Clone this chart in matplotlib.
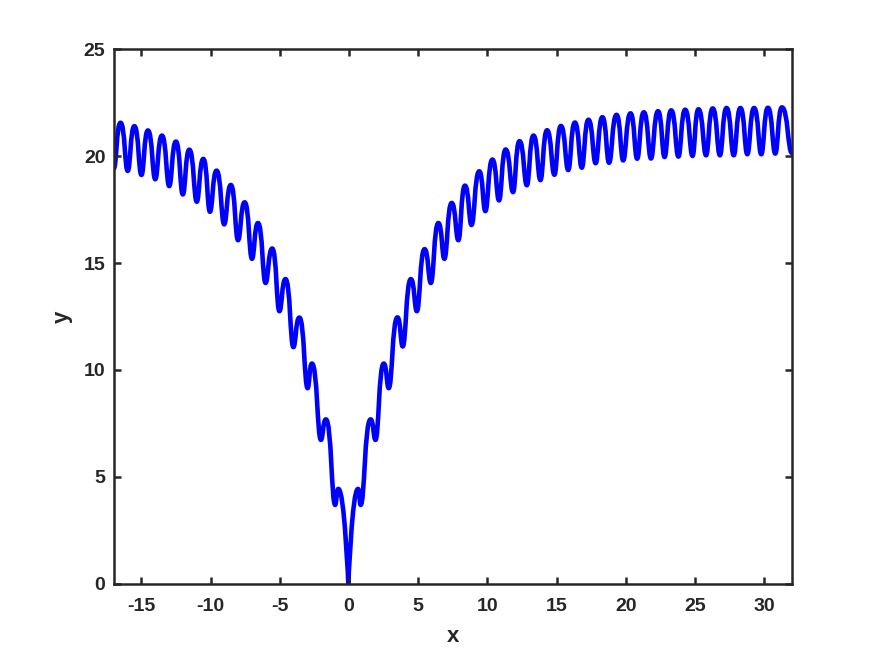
import matplotlib
matplotlib.use("Agg")
import matplotlib.pyplot as plt
from matplotlib.path import Path
from matplotlib.patches import PathPatch

# turning points of the curve (troughs / peaks), left to right
curve_x = [-17.0, -16.51, -15.99, -15.51, -15.0, -14.53, -14.0, -13.52, -12.99, -12.51,
           -12.01, -11.54, -11.0, -10.53, -10.05, -9.57, -9.02, -8.54, -8.02, -7.54,
           -7.01, -6.58, -6.03, -5.55, -5.03, -4.59, -4.02, -3.59, -2.99, -2.68,
           -2.03, -1.67, -1.0, -0.77, -0.05, 0.65, 0.84, 1.56, 1.91, 2.51,
           2.87, 3.5, 3.88, 4.47, 4.9, 5.46, 5.91, 6.46, 6.89, 7.42,
           7.9, 8.38, 8.85, 9.41, 9.85, 10.36, 10.84, 11.32, 11.85, 12.32,
           12.85, 13.33, 13.83, 14.31, 14.84, 15.31, 15.84, 16.32, 16.82, 17.3,
           17.82, 18.31, 18.79, 19.33, 19.81, 20.34, 20.82, 21.3, 21.82, 22.33,
           22.8, 23.28, 23.8, 24.29, 24.82, 25.25, 25.8, 26.28, 26.8, 27.28,
           27.8, 28.28, 28.78, 29.27, 29.79, 30.27, 30.8, 31.28, 32.0]
curve_y = [19.42, 21.56, 19.31, 21.40, 19.12, 21.2, 18.92, 20.96, 18.6, 20.68,
           18.21, 20.30, 17.87, 19.87, 17.4, 19.32, 16.81, 18.65, 16.07, 17.84,
           15.2, 16.87, 14.07, 15.68, 12.75, 14.25, 11.07, 12.45, 9.15, 10.3,
           6.73, 7.69, 3.69, 4.44, 0.0, 4.44, 3.69, 7.69, 6.73, 10.3,
           9.15, 12.46, 11.1, 14.25, 12.75, 15.65, 14.07, 16.87, 15.2, 17.81,
           16.07, 18.62, 16.78, 19.29, 17.43, 19.84, 17.93, 20.31, 18.32, 20.7,
           18.64, 20.96, 18.88, 21.21, 19.13, 21.41, 19.35, 21.57, 19.46, 21.7,
           19.67, 21.82, 19.69, 21.93, 19.8, 22.0, 19.88, 22.05, 19.89, 22.1,
           19.96, 22.14, 19.98, 22.17, 20.01, 22.19, 20.04, 22.23, 20.04, 22.25,
           20.04, 22.25, 20.09, 22.25, 20.09, 22.26, 20.12, 22.28, 20.15]

x_ticks = [-15, -10, -5, 0, 5, 10, 15, 20, 25, 30]
y_ticks = [0, 5, 10, 15, 20, 25]

dark = (0.15, 0.15, 0.15)
plt.rcParams["font.family"] = ["Liberation Sans", "DejaVu Sans"]
plt.rcParams["font.weight"] = "bold"
plt.rcParams["axes.unicode_minus"] = False


def smooth_path(xs, ys):
    # bezier segments with flat tangents at each turning point, sharp at the cusp
    def pull(i):
        if ys[i] == 0:
            return 0.0
        if 0 < i < len(ys) - 1 and ys[i] > ys[i - 1] and ys[i] > ys[i + 1]:
            return 0.6
        return 0.4

    verts = [(xs[0], ys[0])]
    codes = [Path.MOVETO]
    for i in range(len(xs) - 1):
        dx = xs[i + 1] - xs[i]
        verts += [(xs[i] + pull(i) * dx, ys[i]),
                  (xs[i + 1] - pull(i + 1) * dx, ys[i + 1]),
                  (xs[i + 1], ys[i + 1])]
        codes += [Path.CURVE4] * 3
    return Path(verts, codes)


fig = plt.figure(figsize=(8.75, 6.56), dpi=100)
ax = fig.add_axes([0.13, 0.11, 0.775, 0.815])

ax.add_patch(PathPatch(smooth_path(curve_x, curve_y), fill=False,
                       edgecolor=(0, 0, 1), linewidth=3.3,
                       joinstyle="round", capstyle="round"))

ax.set_xlim(-17, 32)
ax.set_ylim(0, 25)
ax.set_xticks(x_ticks)
ax.set_yticks(y_ticks)

for s in ax.spines.values():
    s.set_linewidth(1.8)
    s.set_color(dark)

ax.tick_params(direction="in", length=5, width=1.8, color=dark,
               labelsize=14, labelcolor=dark, top=True, right=True)
ax.tick_params(axis="x", pad=10)
ax.tick_params(axis="y", pad=6)

ax.set_xlabel("x", fontsize=16, fontweight="bold", color=dark, labelpad=8)
ax.set_ylabel("y", fontsize=16, fontweight="bold", color=dark, labelpad=8)

fig.savefig("out.png", dpi=100, facecolor="white")
